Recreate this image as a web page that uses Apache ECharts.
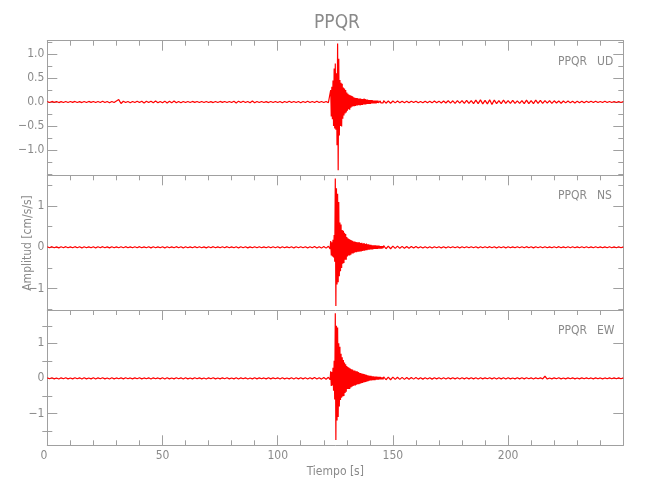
<!DOCTYPE html>
<html>
<head>
<meta charset="utf-8">
<script src="https://cdn.jsdelivr.net/npm/echarts@6/dist/echarts.min.js"></script>
<style>html,body{margin:0;padding:0;background:#fff}#c{width:650px;height:500px}</style>
</head>
<body>
<div id="c"></div>
<script>
// ---- sampling time bases (s) ----
const PRE_T0 = 0, PRE_DT = 1;
const EVENT_T0 = 122.5, EVENT_DT = 0.25;
const POST_T0 = 146, POST_DT = 1;

// ---- UD component (cm/s/s) ----
const UD_pre = [0.01,-0.01,0.012,-0.008,0.01,-0.012,0.008,-0.01,0.012,-0.01,
0.01,-0.008,0.012,-0.01,0.008,-0.012,0.01,-0.01,0.012,-0.008,
0.01,-0.012,0.01,-0.01,0.015,-0.012,0.01,-0.015,0.012,-0.01,
0.02,0.05,-0.03,0.015,-0.012,0.01,-0.015,0.012,-0.01,0.015,
-0.012,0.015,-0.02,0.015,-0.012,0.018,-0.015,0.02,-0.015,0.012,
-0.015,0.018,-0.02,0.015,-0.018,0.02,-0.015,0.012,-0.015,0.01,
-0.012,0.01,-0.01,0.012,-0.008,0.01,-0.012,0.01,-0.01,0.012,
-0.01,0.008,-0.012,0.01,-0.01,0.012,-0.008,0.01,-0.012,0.01,
-0.012,0.015,-0.02,0.018,-0.012,0.015,-0.01,0.012,-0.015,0.02,
-0.015,0.012,-0.01,0.012,-0.01,0.008,-0.012,0.01,-0.01,0.012,
-0.01,0.012,-0.015,0.012,-0.01,0.015,-0.012,0.01,-0.012,0.01,
-0.015,0.012,-0.01,0.015,-0.012,0.01,-0.012,0.015,-0.01,0.012,
-0.01,0.012,-0.015];
const UD_event = [0.02,-0.03,
0.25,-0.3,0.32,-0.36,
0.45,-0.5,0.7,-0.55,
0.8,-0.58,0.6,-0.9,
1.22,-1.42,0.9,-0.7,
0.46,-0.5,0.4,-0.51,
0.38,-0.35,0.3,-0.28,
0.28,-0.24,0.25,-0.22,
0.2,-0.18,0.17,-0.15,
0.15,-0.16,0.14,-0.12,
0.13,-0.1,0.12,-0.09,
0.1,-0.09,0.09,-0.08,
0.08,-0.07,0.08,-0.07,
0.07,-0.06,0.07,-0.07,
0.07,-0.06,0.06,-0.06,
0.06,-0.05,0.07,-0.05,
0.06,-0.05,0.05,-0.04,
0.05,-0.04,0.04,-0.04,
0.04,-0.04,0.04,-0.03,
0.04,-0.03,0.03,-0.03,
0.03,-0.03,0.03,-0.03,
0.03,-0.02,0.03,-0.02,
0.02,-0.02,0.025,-0.02,
0.02,-0.02,0.02,-0.02];
const UD_post = [0.03,-0.025,0.02,-0.025,0.02,-0.018,0.02,-0.015,0.018,-0.015,
0.015,-0.018,0.015,-0.012,0.015,-0.015,0.012,-0.015,0.018,-0.015,
0.015,-0.018,0.02,-0.015,0.018,-0.02,0.022,-0.02,0.025,-0.022,
0.025,-0.03,0.028,-0.025,0.03,-0.028,0.035,-0.03,0.03,-0.035,
0.04,-0.035,0.045,-0.04,0.035,-0.04,0.045,-0.05,0.04,-0.035,
0.03,-0.035,0.04,-0.03,0.028,-0.03,0.035,-0.03,0.025,-0.03,
0.03,-0.035,0.04,-0.035,0.03,-0.035,0.04,-0.03,0.035,-0.03,
0.03,-0.025,0.028,-0.03,0.025,-0.02,0.022,-0.025,0.02,-0.018,
0.02,-0.018,0.015,-0.02,0.018,-0.015,0.015,-0.018,0.015,-0.012,
0.015,-0.012,0.015,-0.012,0.01,-0.012,0.015,-0.01,0.012,-0.01,
0.01,-0.012,0.01,-0.01,0.01];

// ---- NS component ----
const NS_pre = [0.012,-0.01,0.015,-0.012,0.01,-0.015,0.012,-0.01,0.015,-0.012,
0.01,-0.012,0.015,-0.01,0.012,-0.015,0.015,-0.012,0.01,-0.012,
0.015,-0.015,0.012,-0.01,0.015,-0.012,0.01,-0.015,0.012,-0.012,
0.01,-0.01,0.012,-0.012,0.015,-0.01,0.01,-0.012,0.012,-0.01,
0.015,-0.012,0.01,-0.01,0.012,-0.015,0.012,-0.01,0.01,-0.012,
0.012,-0.015,0.015,-0.012,0.01,-0.012,0.015,-0.01,0.012,-0.015,
0.015,-0.012,0.01,-0.012,0.015,-0.01,0.012,-0.012,0.01,-0.015,
0.012,-0.01,0.015,-0.012,0.01,-0.012,0.012,-0.01,0.015,-0.012,
0.01,-0.012,0.015,-0.015,0.012,-0.01,0.012,-0.015,0.01,-0.012,
0.015,-0.012,0.012,-0.01,0.01,-0.012,0.015,-0.012,0.012,-0.01,
0.012,-0.015,0.015,-0.012,0.01,-0.012,0.015,-0.015,0.012,-0.012,
0.015,-0.012,0.012,-0.015,0.015,-0.012,0.02,-0.015,0.015,-0.02,
0.02,-0.02,0.025];
const NS_event = [0.03,-0.04,
0.15,-0.2,0.12,-0.22,
0.18,-0.25,0.3,-0.35,
1.67,-1.42,1.43,-0.9,
1.3,-0.85,1.1,-0.7,
0.6,-0.58,0.55,-0.5,
0.42,-0.4,0.4,-0.38,
0.35,-0.3,0.32,-0.3,
0.25,-0.22,0.22,-0.2,
0.2,-0.2,0.18,-0.18,
0.17,-0.15,0.16,-0.15,
0.14,-0.13,0.14,-0.12,
0.13,-0.12,0.12,-0.11,
0.12,-0.11,0.12,-0.1,
0.1,-0.1,0.11,-0.09,
0.09,-0.08,0.1,-0.08,
0.08,-0.07,0.09,-0.07,
0.07,-0.06,0.07,-0.06,
0.06,-0.05,0.06,-0.05,
0.05,-0.05,0.05,-0.04,
0.05,-0.04,0.05,-0.04,
0.04,-0.04,0.04,-0.03,
0.04,-0.03,0.03,-0.03,
0.03,-0.03,0.03,-0.02];
const NS_post = [0.04,-0.035,0.03,-0.035,0.03,-0.025,0.028,-0.025,0.022,-0.025,
0.02,-0.022,0.02,-0.018,0.02,-0.018,0.015,-0.018,0.015,-0.015,
0.015,-0.018,0.015,-0.012,0.015,-0.015,0.012,-0.015,0.015,-0.012,
0.015,-0.012,0.012,-0.015,0.015,-0.012,0.012,-0.012,0.015,-0.012,
0.012,-0.015,0.015,-0.012,0.012,-0.01,0.015,-0.012,0.012,-0.015,
0.015,-0.012,0.012,-0.015,0.015,-0.012,0.01,-0.012,0.015,-0.012,
0.012,-0.012,0.015,-0.01,0.012,-0.015,0.012,-0.01,0.012,-0.012,
0.015,-0.012,0.01,-0.012,0.012,-0.01,0.015,-0.012,0.01,-0.012,
0.012,-0.01,0.012,-0.012,0.01,-0.012,0.012,-0.01,0.012,-0.01,
0.01,-0.012,0.012,-0.01,0.01,-0.012,0.01,-0.01,0.012,-0.01,
0.01,-0.01,0.012,-0.01,0.01];

// ---- EW component ----
const EW_pre = [0.015,-0.012,0.018,-0.015,0.012,-0.018,0.015,-0.012,0.018,-0.015,
0.012,-0.015,0.018,-0.012,0.015,-0.018,0.018,-0.015,0.012,-0.015,
0.018,-0.018,0.015,-0.012,0.018,-0.015,0.012,-0.018,0.015,-0.015,
0.012,-0.012,0.015,-0.015,0.018,-0.012,0.012,-0.015,0.015,-0.012,
0.018,-0.015,0.012,-0.012,0.015,-0.018,0.015,-0.012,0.012,-0.015,
0.015,-0.018,0.018,-0.015,0.012,-0.015,0.018,-0.012,0.015,-0.018,
0.018,-0.015,0.012,-0.015,0.018,-0.012,0.015,-0.015,0.012,-0.018,
0.015,-0.012,0.018,-0.015,0.012,-0.015,0.015,-0.012,0.018,-0.015,
0.012,-0.015,0.018,-0.018,0.015,-0.012,0.015,-0.018,0.012,-0.015,
0.018,-0.015,0.015,-0.012,0.012,-0.015,0.018,-0.015,0.015,-0.012,
0.015,-0.018,0.018,-0.015,0.012,-0.015,0.018,-0.018,0.015,-0.015,
0.018,-0.015,0.015,-0.018,0.018,-0.015,0.022,-0.018,0.018,-0.022,
0.025,-0.025,0.03];
const EW_event = [0.03,-0.04,
0.2,-0.22,0.18,-0.2,
0.3,-0.35,0.5,-0.6,
1.86,-1.76,1.5,-1.2,
1.45,-1.1,1.0,-0.8,
0.9,-0.62,0.7,-0.55,
0.6,-0.52,0.52,-0.5,
0.45,-0.42,0.4,-0.38,
0.35,-0.3,0.32,-0.3,
0.3,-0.3,0.28,-0.26,
0.26,-0.24,0.25,-0.22,
0.22,-0.2,0.22,-0.2,
0.2,-0.18,0.2,-0.17,
0.18,-0.17,0.16,-0.15,
0.15,-0.14,0.14,-0.13,
0.13,-0.12,0.12,-0.11,
0.11,-0.1,0.1,-0.09,
0.09,-0.08,0.08,-0.07,
0.07,-0.06,0.07,-0.06,
0.06,-0.05,0.06,-0.05,
0.05,-0.05,0.05,-0.04,
0.05,-0.04,0.04,-0.04,
0.04,-0.03,0.04,-0.03,
0.03,-0.03,0.03,-0.03];
const EW_post = [0.045,-0.04,0.035,-0.04,0.035,-0.03,0.032,-0.03,0.028,-0.03,
0.025,-0.028,0.025,-0.022,0.025,-0.022,0.02,-0.022,0.02,-0.018,
0.02,-0.022,0.018,-0.015,0.018,-0.018,0.015,-0.018,0.018,-0.015,
0.018,-0.015,0.015,-0.018,0.018,-0.015,0.015,-0.015,0.018,-0.015,
0.015,-0.018,0.018,-0.015,0.015,-0.012,0.018,-0.015,0.015,-0.018,
0.018,-0.015,0.015,-0.018,0.018,-0.015,0.012,-0.015,0.018,-0.015,
0.015,-0.015,0.018,-0.012,0.015,-0.018,0.015,-0.012,0.015,-0.015,
0.06,-0.02,0.012,-0.015,0.015,-0.012,0.018,-0.015,0.012,-0.015,
0.015,-0.012,0.015,-0.015,0.012,-0.015,0.015,-0.012,0.015,-0.012,
0.012,-0.015,0.015,-0.012,0.012,-0.015,0.012,-0.012,0.015,-0.012,
0.012,-0.012,0.015,-0.012,0.012];

// ---- axes: ranges and tick labels ----
const X_RANGE = [0, 250];
const X_LABELS = [0, 50, 100, 150, 200];
const UD_RANGE = [-1.527, 1.277];
const UD_MAJOR = [-1.0, -0.5, 0.0, 0.5, 1.0];
const UD_MINOR = [-1.5, -1.25, -0.75, -0.25, 0.25, 0.75, 1.25];
const NS_RANGE = [-1.52, 1.745];
const NS_MAJOR = [-1, 0, 1];
const NS_MINOR = [-1.5, -0.5, 0.5, 1.5];
const EW_RANGE = [-1.91, 1.95];
const EW_MAJOR = [-1, 0, 1];
const EW_MINOR = [-1.5, -0.5, 0.5, 1.5];

const STATION = 'PPQR';
const COMPONENTS = ['UD', 'NS', 'EW'];
const TITLE = 'PPQR';
const X_NAME = 'Tiempo [s]';
const Y_NAME = 'Amplitud [cm/s/s]';

function build(pre, ev, post) {
  const out = [];
  pre.forEach((v, i) => out.push([PRE_T0 + i * PRE_DT, v]));
  ev.forEach((v, i) => out.push([EVENT_T0 + i * EVENT_DT, v]));
  post.forEach((v, i) => out.push([POST_T0 + i * POST_DT, v]));
  return out;
}

const FONT = "'Liberation Sans Narrow', 'DejaVu Sans Condensed', 'Liberation Sans', sans-serif";
const AX = '#a0a0a0';
const TX = '#8a8a8a';
const minus = s => s.replace('-', '\u2212');

const panels = [
  {data: build(UD_pre, UD_event, UD_post), range: UD_RANGE, major: UD_MAJOR, minor: UD_MINOR, fmt: v => minus(Number(v).toFixed(1)), top: 40.7, height: 134.6},
  {data: build(NS_pre, NS_event, NS_post), range: NS_RANGE, major: NS_MAJOR, minor: NS_MINOR, fmt: v => minus(String(Math.round(v))), top: 175.3, height: 134.7},
  {data: build(EW_pre, EW_event, EW_post), range: EW_RANGE, major: EW_MAJOR, minor: EW_MINOR, fmt: v => minus(String(Math.round(v))), top: 310, height: 135.3}
];

const grid = [], xAxis = [], yAxis = [], series = [], graphic = [];
const LEFT = 47.3, RIGHT = 650 - 623.3;

panels.forEach((p, i) => {
  grid.push({left: LEFT, right: RIGHT, top: p.top, height: p.height, containLabel: false, outerBoundsMode: 'none'});
  const xTopIdx = xAxis.length;
  xAxis.push({
    gridIndex: i, type: 'value', position: 'top', min: X_RANGE[0], max: X_RANGE[1], interval: 50,
    axisLine: {show: true, onZero: false, lineStyle: {color: AX, width: 1}},
    axisTick: {show: true, inside: true, length: 10, lineStyle: {color: AX}},
    minorTick: {show: true, splitNumber: 5, length: 5, lineStyle: {color: AX}},
    axisLabel: {show: false}, splitLine: {show: false}
  });
  if (i === panels.length - 1) {
    xAxis.push({
      gridIndex: i, type: 'value', position: 'bottom', min: X_RANGE[0], max: X_RANGE[1], interval: 50,
      axisLine: {show: true, onZero: false, lineStyle: {color: AX, width: 1}},
      axisTick: {show: true, inside: true, length: 10, lineStyle: {color: AX}},
      minorTick: {show: true, splitNumber: 5, length: 5, lineStyle: {color: AX}},
      axisLabel: {show: true, customValues: X_LABELS, margin: 5, color: TX, fontSize: 12, fontFamily: FONT, alignMinLabel: 'right'},
      splitLine: {show: false},
      name: X_NAME, nameLocation: 'middle', nameGap: 21,
      nameTextStyle: {color: TX, fontSize: 12, fontFamily: FONT}
    });
  }
  const yMainIdx = yAxis.length;
  const common = {gridIndex: i, type: 'value', min: p.range[0], max: p.range[1], splitLine: {show: false}};
  yAxis.push(Object.assign({}, common, {
    position: 'left',
    axisLine: {show: true, onZero: false, lineStyle: {color: AX, width: 1}},
    axisTick: {show: true, inside: true, length: 10, customValues: p.major, lineStyle: {color: AX}},
    axisLabel: {show: true, customValues: p.major, formatter: p.fmt, margin: 3, color: TX, fontSize: 12, fontFamily: FONT}
  }));
  yAxis.push(Object.assign({}, common, {
    position: 'left',
    axisLine: {show: false},
    axisTick: {show: true, inside: true, length: 5, customValues: p.minor, lineStyle: {color: AX}},
    axisLabel: {show: false}
  }));
  yAxis.push(Object.assign({}, common, {
    position: 'right',
    axisLine: {show: true, onZero: false, lineStyle: {color: AX, width: 1}},
    axisTick: {show: true, inside: true, length: 10, customValues: p.major, lineStyle: {color: AX}},
    axisLabel: {show: false}
  }));
  yAxis.push(Object.assign({}, common, {
    position: 'right',
    axisLine: {show: false},
    axisTick: {show: true, inside: true, length: 5, customValues: p.minor, lineStyle: {color: AX}},
    axisLabel: {show: false}
  }));
  series.push({
    type: 'line', xAxisIndex: xTopIdx, yAxisIndex: yMainIdx, data: p.data,
    showSymbol: false, symbol: 'none', sampling: null, silent: true,
    lineStyle: {color: '#ff0000', width: 1.2}, z: 1
  });
  const ty = p.top + 21;
  graphic.push({type: 'text', left: 558, top: ty - 6, silent: true,
    style: {text: STATION, fill: TX, font: '12px ' + FONT}});
  graphic.push({type: 'text', left: 597, top: ty - 6, silent: true,
    style: {text: COMPONENTS[i], fill: TX, font: '12px ' + FONT}});
});

graphic.push({type: 'text', x: 337, y: 23, silent: true,
  style: {text: TITLE, fill: TX, font: '19px ' + FONT, align: 'center', verticalAlign: 'middle'}});
graphic.push({type: 'text', x: 28, y: 243, rotation: Math.PI / 2, silent: true,
  style: {text: Y_NAME, fill: TX, font: '12px ' + FONT, align: 'center', verticalAlign: 'middle'}});

const chart = echarts.init(document.getElementById('c'), null, {renderer: 'canvas'});
chart.setOption({
  animation: false,
  backgroundColor: '#ffffff',
  grid, xAxis, yAxis, series, graphic
});
</script>
</body>
</html>
